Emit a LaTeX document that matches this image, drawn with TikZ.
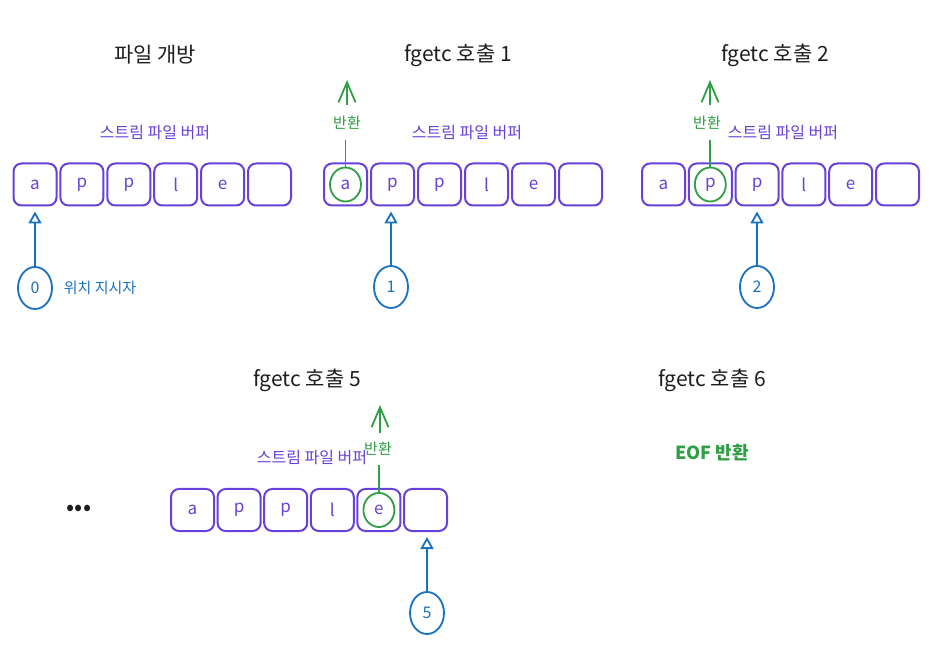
\documentclass[tikz,border=0pt]{standalone}
\usepackage{fontspec}
\setmainfont{Noto Sans CJK KR}
\usetikzlibrary{arrows.meta,shapes.geometric}
\definecolor{exviolet}{HTML}{6741D9}
\definecolor{exblue}{HTML}{1971C2}
\definecolor{exgreen}{HTML}{2F9E44}
\definecolor{exblack}{HTML}{1E1E1E}
\tikzset{
  cell/.style={draw=exviolet, line width=2pt, rounded corners=8pt, minimum width=43pt, minimum height=42pt, inner sep=0pt, text=exviolet, font=\fontsize{17}{17}\selectfont},
  titletext/.style={text=exblack, font=\fontsize{21}{24}\selectfont},
  buflabel/.style={text=exviolet, font=\fontsize{16}{18}\selectfont},
  ptr/.style={ellipse, draw=exblue, line width=1.8pt, minimum width=34pt, minimum height=42pt, inner sep=0pt, text=exblue, font=\fontsize{16}{16}\selectfont},
  ptrarrow/.style={draw=exblue, line width=1.8pt, shorten >=5pt, -{Triangle[open,length=12pt,width=13pt,line width=1.8pt]}},
  ptrlabel/.style={text=exblue, font=\fontsize{15}{18}\selectfont},
  retcircle/.style={ellipse, draw=exgreen, line width=1.8pt, minimum width=31pt, minimum height=34pt, inner sep=0pt},
  retlabel/.style={text=exgreen, inner sep=0pt, font=\fontsize{15}{18}\selectfont},
  retline/.style={draw=exgreen, line width=1.8pt},
  retarrow/.style={draw=exgreen, line width=1.8pt, -{Straight Barb[length=20pt,width=17pt,line width=1.8pt]}},
}
\begin{document}
\begin{tikzpicture}[x=1pt,y=-1pt]
\useasboundingbox (0,0) rectangle (930,660);

% ---------- Panel 1 : file open ----------
\node[titletext] (t1) at (155,55) {파일 개방};
\node[buflabel] (b1) at (155,133) {스트림 파일 버퍼};
\foreach \i/\ch in {1/a,2/p,3/p,4/l,5/e,6/{}} {
  \node[cell] (pa\i) at ({35+(\i-1)*46.9},184.5) {\ch};
}
\node[ptr] (c0) at (35,288) {0};
\node[ptrlabel] (pl) at (100,288) {위치 지시자};
\draw[ptrarrow] (c0.north) -- (c0.north |- pa1.south);

% ---------- Panel 2 : fgetc 1 ----------
\node[titletext] (t2) at (458,55) {fgetc 호출 1};
\node[buflabel] (b2) at (467,133) {스트림 파일 버퍼};
\foreach \i/\ch in {1/a,2/p,3/p,4/l,5/e,6/{}} {
  \node[cell] (pb\i) at ({345.5+(\i-1)*47},184.5) {\ch};
}
\node[retcircle] (g1) at (pb1.center) {};
\node[retlabel, minimum height=35pt] (r1) at (347,122.5) {반환};
\coordinate (a1) at (347,80);
\draw[retline] (g1.north) -- (g1.north |- r1.south);
\draw[retarrow] (a1 |- r1.north) -- (a1);
\node[ptr] (c1) at (391,287) {1};
\draw[ptrarrow] (c1.north) -- (c1.north |- pb2.south);

% ---------- Panel 3 : fgetc 2 ----------
\node[titletext] (t3) at (775,55) {fgetc 호출 2};
\node[buflabel] (b3) at (783,133) {스트림 파일 버퍼};
\foreach \i/\ch in {1/a,2/p,3/p,4/l,5/e,6/{}} {
  \node[cell] (pc\i) at ({663.5+(\i-1)*46.8},184.5) {\ch};
}
\node[retcircle] (g2) at (pc2.center) {};
\node[retlabel, minimum height=35pt] (r2) at (707,122.5) {반환};
\coordinate (a2) at (710,80);
\draw[retline] (g2.north) -- (g2.north |- r2.south);
\draw[retarrow] (a2 |- r2.north) -- (a2);
\node[ptr] (c2) at (757,287) {2};
\draw[ptrarrow] (c2.north) -- (c2.north |- pc3.south);

% ---------- Panel 5 : fgetc 5 ----------
\node[titletext] (t5) at (307,380) {fgetc 호출 5};
\node[buflabel] (b5) at (312,458) {스트림 파일 버퍼};
\node[text=exblack, font=\fontsize{24}{24}\selectfont] (dots) at (79,510) {•••};
\foreach \i/\ch in {1/a,2/p,3/p,4/l,5/e,6/{}} {
  \node[cell] (pd\i) at ({192.5+(\i-1)*46.6},510) {\ch};
}
\node[retcircle] (g5) at (pd5.center) {};
\node[retlabel, minimum height=32pt] (r5) at (378,449) {반환};
\coordinate (a5) at (380,405);
\draw[retline] (g5.north) -- (g5.north |- r5.south);
\draw[retarrow] (a5 |- r5.north) -- (a5);
\node[ptr] (c5) at (427,613) {5};
\draw[ptrarrow] (c5.north) -- (c5.north |- pd6.south);

% ---------- Panel 6 : fgetc 6 ----------
\node[titletext] (t6) at (712,380) {fgetc 호출 6};
\node[text=exgreen, font=\fontsize{18}{20}\selectfont\bfseries] (eof) at (712,453) {EOF 반환};
\end{tikzpicture}
\end{document}
